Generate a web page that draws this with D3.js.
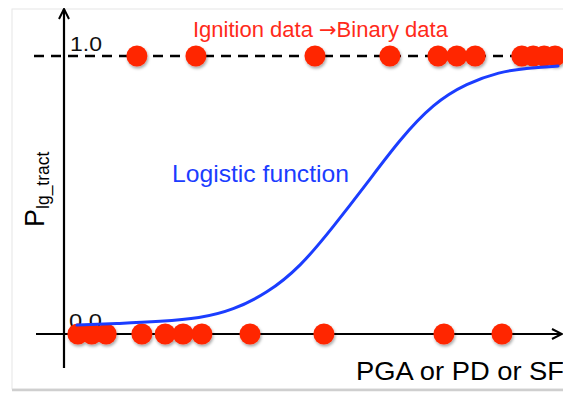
<!DOCTYPE html>
<html>
<head>
<meta charset="utf-8">
<script src="https://cdn.jsdelivr.net/npm/d3@7"></script>
<style>
  html, body { margin: 0; padding: 0; background: #fff; }
  svg { display: block; }
  text { font-family: "Liberation Sans", Arial, Helvetica, sans-serif; }
</style>
</head>
<body>
<svg id="chart" width="563" height="393"></svg>
<script>
// ---- data (x in arbitrary intensity units 0..100, y = probability) ----
const onesX  = [14.7, 26.6, 50.6, 65.7, 75.4, 79.2, 82.9, 92.3, 94.6, 96.8, 99.0];   // ignition = 1
const zerosX = [2.8, 5.6, 8.5, 15.7, 20.4, 24.0, 27.8, 37.5, 52.4, 76.6, 88.3];      // ignition = 0
const curveX = [2.6, 11.3, 19.4, 27.4, 34.1, 40.9, 47.6, 54.3, 61.0, 67.7, 74.5, 81.2, 87.9, 93.0, 99.6];
const curveY = [0.032, 0.038, 0.045, 0.056, 0.086, 0.146, 0.240, 0.386, 0.540, 0.700, 0.830, 0.902, 0.943, 0.956, 0.964];
const yTickLabels = ["0.0", "1.0"];
const titleParts = ["Ignition data ", "\u2192", "Binary data"];
const curveLabel = "Logistic function";
const xLabel = "PGA or PD or SF";

const svg = d3.select("#chart");
const x = d3.scaleLinear().domain([0, 100]).range([64, 560]);
const y = d3.scaleLinear().domain([0, 1]).range([334, 56]);

const defs = svg.append("defs");
const f = defs.append("filter").attr("id", "shadow").attr("x", "-50%").attr("y", "-50%").attr("width", "200%").attr("height", "200%");
f.append("feDropShadow").attr("dx", 1).attr("dy", 2).attr("stdDeviation", 1.4).attr("flood-color", "#000").attr("flood-opacity", 0.35);
const m = defs.append("marker").attr("id", "arrow").attr("viewBox", "0 0 12 12").attr("refX", 11).attr("refY", 6)
  .attr("markerWidth", 12).attr("markerHeight", 12).attr("markerUnits", "userSpaceOnUse").attr("orient", "auto");
m.append("path").attr("d", "M1,1 L11,6 L1,11").attr("fill", "none").attr("stroke", "#000").attr("stroke-width", 2);

// slide frame
svg.append("rect").attr("x", 12).attr("y", 9).attr("width", 600).attr("height", 380)
  .attr("fill", "#fff").attr("stroke", "#e6e6e6").attr("stroke-width", 1);
svg.append("line").attr("x1", 12).attr("x2", 563).attr("y1", 390).attr("y2", 390)
  .attr("stroke", "#cfcfcf").attr("stroke-width", 2.5);

// dashed line at y = 1
svg.append("line").attr("x1", 34).attr("x2", 563).attr("y1", y(1)).attr("y2", y(1))
  .attr("stroke", "#000").attr("stroke-width", 2.5).attr("stroke-dasharray", "10,7");

// axes
svg.append("line").attr("x1", 36).attr("x2", 562).attr("y1", y(0)).attr("y2", y(0))
  .attr("stroke", "#000").attr("stroke-width", 2.2).attr("marker-end", "url(#arrow)");
svg.append("line").attr("x1", x(0)).attr("x2", x(0)).attr("y1", 368).attr("y2", 9)
  .attr("stroke", "#000").attr("stroke-width", 2.2).attr("marker-end", "url(#arrow)");

// tick labels
svg.append("text").attr("x", 70).attr("y", y(1) - 5).attr("font-size", 20)
  .attr("font-family", "DejaVu Serif").attr("textLength", 32).attr("lengthAdjust", "spacingAndGlyphs")
  .attr("fill", "#111").text(yTickLabels[1]);
svg.append("text").attr("x", 69).attr("y", y(0) - 6).attr("font-size", 20)
  .attr("textLength", 33).attr("lengthAdjust", "spacingAndGlyphs")
  .attr("fill", "#111").text(yTickLabels[0]);

// dots
const dotColor = "#ff2600";
svg.append("g").attr("filter", "url(#shadow)").selectAll("circle.one").data(onesX).join("circle")
  .attr("cx", d => x(d)).attr("cy", y(1)).attr("r", 10.5).attr("fill", dotColor);
svg.append("g").attr("filter", "url(#shadow)").selectAll("circle.zero").data(zerosX).join("circle")
  .attr("cx", d => x(d)).attr("cy", y(0)).attr("r", 10.5).attr("fill", dotColor);

// logistic curve
const line = d3.line().x(d => x(d[0])).y(d => y(d[1])).curve(d3.curveBasis);
svg.append("path").datum(curveX.map((v, i) => [v, curveY[i]]))
  .attr("d", line).attr("fill", "none").attr("stroke", "#1b3dff").attr("stroke-width", 3)
  .attr("stroke-linecap", "round");

// labels
const t = svg.append("text").attr("x", 193).attr("y", 37).attr("font-size", 22).attr("fill", "#ff2a1a");
t.append("tspan").text(titleParts[0]);
t.append("tspan").attr("font-family", "DejaVu Sans").attr("font-size", 21).text(titleParts[1]);
t.append("tspan").text(titleParts[2]);
svg.append("text").attr("x", 172).attr("y", 182).attr("font-size", 24)
  .attr("textLength", 177).attr("lengthAdjust", "spacingAndGlyphs").attr("fill", "#1b3dff").text(curveLabel);
svg.append("text").attr("x", 356).attr("y", 380).attr("font-size", 25.5)
  .attr("textLength", 208).attr("lengthAdjust", "spacingAndGlyphs").attr("fill", "#000").text(xLabel);

const yl = svg.append("text").attr("transform", "translate(44,227) rotate(-90)").attr("font-size", 27).attr("fill", "#000");
yl.append("tspan").text("P");
yl.append("tspan").attr("font-size", 17.5).attr("dy", 5).text("lg_tract");
</script>
</body>
</html>
